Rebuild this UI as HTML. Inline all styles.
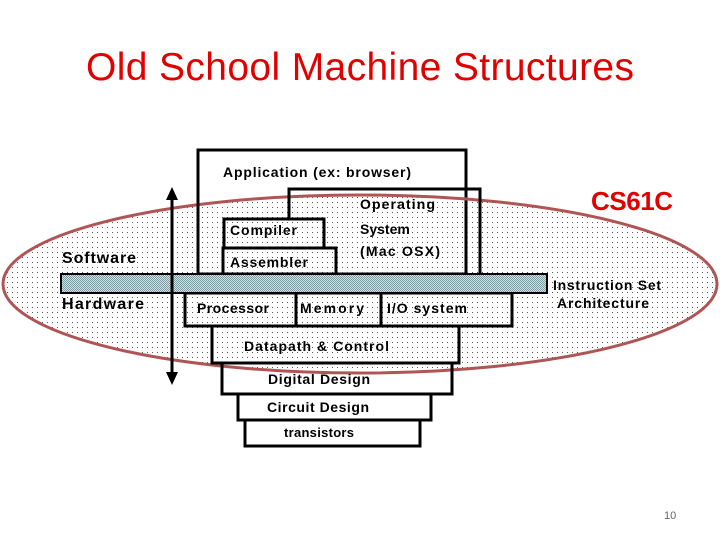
<!DOCTYPE html>
<html><head><style>body{margin:0;background:#fff}svg{display:block}</style></head><body>
<svg width="720" height="540" xmlns="http://www.w3.org/2000/svg" font-family="Liberation Sans, sans-serif">
<defs>
<pattern id="d" width="5" height="5" patternUnits="userSpaceOnUse"><rect x="2" y="2" width="1" height="1" fill="#555"/></pattern>
<pattern id="c" width="2" height="2" patternUnits="userSpaceOnUse"><rect width="2" height="2" fill="#cfe0e6"/><rect width="1" height="1" fill="#7e9aa4"/><rect x="1" y="1" width="1" height="1" fill="#7e9aa4"/></pattern>
</defs>
<text x="360" y="80" text-anchor="middle" font-size="39" fill="#e00000" textLength="548">Old School Machine Structures</text>
<rect x="198" y="150" width="268" height="124" fill="#fff" stroke="#000" stroke-width="3"/>
<ellipse cx="360" cy="284" rx="357" ry="89" fill="url(#d)" stroke="#b05555" stroke-width="3"/>
<g fill="none" stroke="#000" stroke-width="3">
<path d="M198 184 V274 M466 150 V196"/>
<path d="M289 219 V189 H480 V274"/>
<rect x="224" y="219" width="100" height="29"/>
<rect x="223" y="248" width="113" height="26"/>
<rect x="185" y="293" width="327" height="33"/>
<path d="M296 293V326 M381 293V326"/>
<rect x="212" y="326" width="247" height="37"/>
<rect x="222" y="363" width="230" height="31"/>
<rect x="238" y="394" width="193" height="26"/>
<rect x="245" y="420" width="175" height="26"/>
</g>
<rect x="61" y="274" width="486" height="19" fill="url(#c)" stroke="#000" stroke-width="2"/>
<path d="M172 196 V376" stroke="#000" stroke-width="3"/>
<path d="M166 200 L172 187 L178 200Z M166 372 L172 385 L178 372Z" fill="#000"/>
<g font-size="14" fill="#000" font-weight="bold">
<text x="223" y="177" textLength="188">Application (ex: browser)</text>
<text x="360" y="209" textLength="75">Operating</text>
<text x="360" y="234">System</text>
<text x="360" y="256" textLength="80">(Mac OSX)</text>
<text x="230" y="235" textLength="67">Compiler</text>
<text x="230" y="267" textLength="78">Assembler</text>
<text x="197" y="313" textLength="72">Processor</text>
<text x="300" y="313" textLength="64">Memory</text>
<text x="387" y="313" textLength="80">I/O system</text>
<text x="244" y="351" textLength="145">Datapath &amp; Control</text>
<text x="268" y="384" textLength="102">Digital Design</text>
<text x="267" y="412" textLength="102">Circuit Design</text>
<text x="284" y="437" font-size="13" textLength="70">transistors</text>
<text x="553" y="290" textLength="108">Instruction Set</text>
<text x="557" y="308" textLength="92">Architecture</text>
<text x="62" y="263" font-size="16" textLength="74">Software</text>
<text x="62" y="309" font-size="16" textLength="82">Hardware</text>
</g>
<text x="591" y="210" font-size="26" font-weight="bold" fill="#e00000" textLength="82">CS61C</text>
<text x="664" y="519" font-size="11" fill="#666">10</text>
</svg>
</body></html>
